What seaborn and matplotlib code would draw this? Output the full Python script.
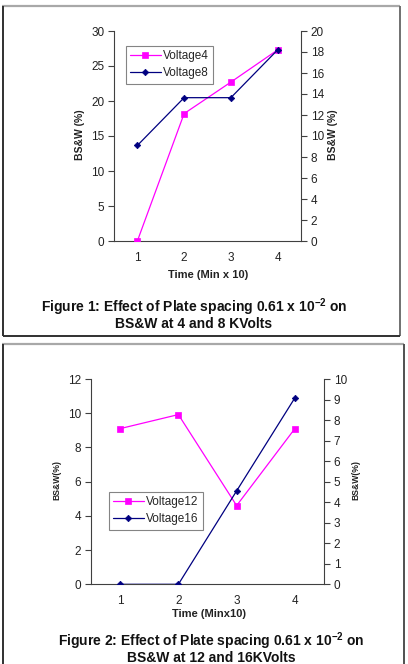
import numpy as np
import pandas as pd
import matplotlib
matplotlib.use("Agg")
import matplotlib.pyplot as plt
from matplotlib.lines import Line2D
import seaborn as sns

# ---- data ----
time_cats = [1, 2, 3, 4]
voltage4 = [0.0, 18.2, 22.7, 27.3]       # left axis, fig 1
voltage8 = [9.1, 13.65, 13.65, 18.2]     # right axis, fig 1
voltage12 = [9.1, 9.92, 4.6, 9.1]        # left axis, fig 2
voltage16 = [0.0, 0.0, 4.55, 9.08]       # right axis, fig 2

fig1_left_ticks = [0, 5, 10, 15, 20, 25, 30]
fig1_right_ticks = [0, 2, 4, 6, 8, 10, 12, 14, 16, 18, 20]
fig2_left_ticks = [0, 2, 4, 6, 8, 10, 12]
fig2_right_ticks = [0, 1, 2, 3, 4, 5, 6, 7, 8, 9, 10]

sns.set_style("white")
plt.rcParams['font.family'] = ['Liberation Sans', 'DejaVu Sans']
plt.rcParams['mathtext.default'] = 'regular'

W, H = 408, 664
fig = plt.figure(figsize=(W / 100, H / 100), dpi=100)

def fx(x):
    return x / W

def fy(y):
    return 1 - y / H

def line(x0, y0, x1, y1, color, lw):
    fig.add_artist(Line2D([fx(x0), fx(x1)], [fy(y0), fy(y1)], transform=fig.transFigure,
                          color=color, lw=lw, solid_capstyle='butt'))

# panel borders
line(2, 6, 400, 6, '#a8a8a8', 1.6)
line(3, 6, 3, 336, '#303030', 1.4)
line(400, 6, 400, 336, '#707070', 1.4)
line(3, 336, 400, 336, '#303030', 1.4)
line(2, 344, 404, 344, '#a8a8a8', 1.6)
line(3, 344, 3, 664, '#303030', 1.4)
line(404, 344, 404, 664, '#505050', 1.4)

MAG = '#FF00FF'
NAVY = '#000080'
AX_COL = '#404040'
TICK_FS = 8.5
SQ_MS = 4
DM_MS = 3.3

def style_axes(ax, ax2, left_ticks, right_ticks):
    ax.set_xlim(0.5, 4.5)
    ax.set_xticks(time_cats)
    ax.set_xticklabels([str(t) for t in time_cats])
    ax.set_xticks([0.5, 1.5, 2.5, 3.5, 4.5], minor=True)
    ax.tick_params(axis='x', which='major', length=0, pad=8, labelsize=TICK_FS, colors='#222222')
    ax.tick_params(axis='x', which='minor', length=4, width=0.8, color=AX_COL, direction='out')
    ax.set_ylim(left_ticks[0], left_ticks[-1])
    ax.set_yticks(left_ticks)
    ax.tick_params(axis='y', which='major', left=True, length=4, width=0.8, color=AX_COL,
                   direction='out', labelsize=TICK_FS, labelcolor='#222222', pad=3)
    ax2.set_ylim(right_ticks[0], right_ticks[-1])
    ax2.set_yticks(right_ticks)
    ax2.tick_params(axis='y', which='major', right=True, length=4, width=0.8, color=AX_COL,
                    direction='out', labelsize=TICK_FS, labelcolor='#222222', pad=3)
    for a in (ax, ax2):
        a.spines['top'].set_visible(False)
        for s in ('left', 'right', 'bottom'):
            a.spines[s].set_color(AX_COL)
            a.spines[s].set_linewidth(0.8)
        a.set_xlabel('')
        a.set_ylabel('')
        a.grid(False)
        if a.get_legend() is not None:
            a.get_legend().remove()
    ax2.spines['left'].set_visible(False)
    ax2.spines['bottom'].set_visible(False)
    ax.spines['right'].set_visible(False)

def add_legend(ax, labels, anchor):
    h = [Line2D([], [], color=MAG, lw=0.9, marker='s', markersize=SQ_MS, markeredgewidth=0.5),
         Line2D([], [], color=NAVY, lw=0.9, marker='D', markersize=DM_MS, markeredgewidth=0.5)]
    leg = ax.legend(h, labels, loc='upper left', bbox_to_anchor=anchor,
                    frameon=True, fancybox=False, edgecolor='#666666', fontsize=8.5,
                    borderpad=0.35, handlelength=2.6, handletextpad=0.2, labelspacing=0.45,
                    borderaxespad=0)
    leg.get_frame().set_linewidth(0.8)
    return leg

def draw_series(ax, df, col, color, marker, ms):
    sns.lineplot(data=df, x='time', y=col, ax=ax, color=color, lw=0.9, marker=marker,
                 markersize=ms, markeredgecolor=color, markeredgewidth=0.5, zorder=3)

# ---------------- Figure 1 ----------------
df1 = pd.DataFrame({'time': time_cats, 'v4': voltage4, 'v8': voltage8})
ax1 = fig.add_axes([fx(114), fy(241), fx(301) - fx(114), fy(31) - fy(241)])
ax1b = ax1.twinx()
draw_series(ax1, df1, 'v4', MAG, 's', SQ_MS)
draw_series(ax1b, df1, 'v8', NAVY, 'D', DM_MS)
style_axes(ax1, ax1b, fig1_left_ticks, fig1_right_ticks)
add_legend(ax1b, ['Voltage4', 'Voltage8'], ((126 - 114) / 187, (241 - 46) / 210))

fig.text(fx(80), fy(135), 'BS&W (%)', rotation=90, ha='center', va='center',
         fontsize=7.5, fontweight='bold', color='#222222')
fig.text(fx(333), fy(135), 'BS&W (%)', rotation=90, ha='center', va='center',
         fontsize=7.5, fontweight='bold', color='#222222')
fig.text(fx(208), fy(275), 'Time (Min x 10)', ha='center', va='center',
         fontsize=8, fontweight='bold', color='#222222')
fig.text(fx(194), fy(307), 'Figure 1: Effect of Plate spacing 0.61 x 10$^{-2}$ on',
         ha='center', va='center', fontsize=10, fontweight='bold', color='#111111')
fig.text(fx(194), fy(324), 'BS&W at 4 and 8 KVolts',
         ha='center', va='center', fontsize=10, fontweight='bold', color='#111111')

# ---------------- Figure 2 ----------------
df2 = pd.DataFrame({'time': time_cats, 'v12': voltage12, 'v16': voltage16})
ax2 = fig.add_axes([fx(91), fy(584.3), fx(324) - fx(91), fy(379) - fy(584.3)])
ax2b = ax2.twinx()
draw_series(ax2, df2, 'v12', MAG, 's', SQ_MS)
draw_series(ax2b, df2, 'v16', NAVY, 'D', DM_MS)
style_axes(ax2, ax2b, fig2_left_ticks, fig2_right_ticks)
add_legend(ax2b, ['Voltage12', 'Voltage16'], ((109 - 91) / 233, (584.3 - 492) / 205.3))

fig.text(fx(57), fy(480), 'BS&W(%)', rotation=90, ha='center', va='center',
         fontsize=6.2, fontweight='bold', color='#222222')
fig.text(fx(356), fy(480), 'BS&W(%)', rotation=90, ha='center', va='center',
         fontsize=6.2, fontweight='bold', color='#222222')
fig.text(fx(209), fy(614), 'Time (Minx10)', ha='center', va='center',
         fontsize=8, fontweight='bold', color='#222222')
fig.text(fx(211), fy(641), 'Figure 2: Effect of Plate spacing 0.61 x 10$^{-2}$ on',
         ha='center', va='center', fontsize=10, fontweight='bold', color='#111111')
fig.text(fx(211), fy(658), 'BS&W at 12 and 16KVolts',
         ha='center', va='center', fontsize=10, fontweight='bold', color='#111111')

fig.savefig('out.png', dpi=100, facecolor='white')
